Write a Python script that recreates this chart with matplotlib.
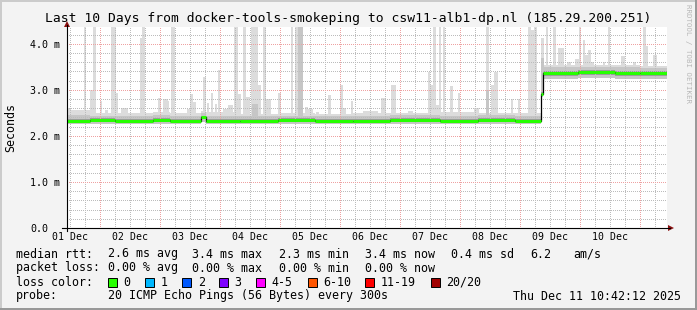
import numpy as np
import matplotlib
matplotlib.use("Agg")
import matplotlib.pyplot as plt
from matplotlib.patches import Rectangle, Polygon
from matplotlib.lines import Line2D

W, H = 697, 310
plt.rcParams['font.family'] = ['DejaVu Sans Mono']

TITLE = "Last 10 Days from docker-tools-smokeping to csw11-alb1-dp.nl (185.29.200.251)"

# Time axis in hours since 01 Dec 00:00
T_START, T_END = 10.7, 250.7
DAY_LABELS = ["01 Dec", "02 Dec", "03 Dec", "04 Dec", "05 Dec",
              "06 Dec", "07 Dec", "08 Dec", "09 Dec", "10 Dec"]
Y_TICKS = [0, 1, 2, 3, 4]
Y_LABELS = ["0.0", "1.0 m", "2.0 m", "3.0 m", "4.0 m"]

# Smoke / median levels per time bin (ms)
EDGES = [10.7, 20, 30, 45, 52, 64.4, 66.4, 80, 95, 110, 125, 140, 160, 175,
         190, 200.4, 201.2, 215, 230, 240, 250.7]
MEDIAN = [2.33, 2.34, 2.32, 2.34, 2.33, 2.40, 2.33, 2.32, 2.34, 2.33, 2.33,
          2.34, 2.33, 2.34, 2.33, 2.92, 3.37, 3.38, 3.37, 3.37]
SMOKE_MIN = [2.26, 2.26, 2.25, 2.26, 2.26, 2.30, 2.25, 2.25, 2.26, 2.26, 2.25,
             2.26, 2.26, 2.26, 2.26, 2.84, 3.24, 3.25, 3.24, 3.24]
DARK_LOW = [2.30, 2.30, 2.29, 2.30, 2.30, 2.36, 2.29, 2.29, 2.30, 2.30, 2.29,
            2.30, 2.30, 2.30, 2.30, 2.88, 3.31, 3.32, 3.31, 3.31]
DARK_HIGH = [2.37, 2.38, 2.36, 2.38, 2.37, 2.44, 2.37, 2.36, 2.38, 2.37, 2.37,
             2.38, 2.37, 2.38, 2.37, 2.96, 3.42, 3.43, 3.42, 3.42]
MID_HIGH = [2.45, 2.44, 2.43, 2.45, 2.44, 2.50, 2.44, 2.43, 2.44, 2.44, 2.43,
            2.45, 2.44, 2.45, 2.44, 3.02, 3.49, 3.50, 3.49, 3.48]
LIGHT_HIGH = [2.56, 2.50, 2.49, 2.52, 2.50, 2.55, 2.52, 2.48, 2.50, 2.48, 2.50,
              2.50, 2.52, 2.50, 2.50, 3.10, 3.53, 3.54, 3.55, 3.52]

# Outlier pings (light smoke), hours and ms
SPIKE_START = [11.2, 12.4, 17.6, 20.0, 21.2, 24.0, 26.0, 28.4, 30.0, 32.4, 40.0, 40.8,
               47.2, 49.2, 50.4, 52.4, 56.4, 58.8, 60.0, 61.2, 65.2, 66.8, 68.4, 70.0,
               71.2, 73.2, 75.2, 77.6, 78.4, 81.2, 82.4, 84.4, 87.2, 89.2, 90.4, 95.2,
               100.4, 102.0, 106.0, 107.2, 110.4, 115.2, 120.0, 121.2, 124.4, 129.2,
               136.4, 140.4, 147.2, 155.2, 156.0, 157.2, 158.4, 159.6, 161.2, 164.0,
               167.2, 173.6, 178.4, 180.4, 181.6, 188.4, 191.2, 195.2, 196.4, 197.6,
               200.4, 202.4, 205.2, 207.2, 210.8, 214.0, 215.6, 217.2, 218.0, 219.2,
               220.4, 225.2, 227.2, 232.4, 237.2, 241.2, 242.4, 245.2]
SPIKE_END = [12.4, 15.2, 18.4, 22.4, 22.4, 24.8, 27.2, 30.4, 31.2, 35.2, 40.8, 42.0,
             48.4, 51.2, 51.6, 54.0, 58.4, 60.4, 61.2, 62.4, 66.4, 67.6, 69.2, 70.8,
             72.0, 75.2, 77.2, 79.2, 80.4, 82.4, 84.0, 87.2, 88.4, 90.4, 92.4, 96.4,
             101.2, 105.2, 107.2, 109.2, 111.6, 116.4, 121.2, 122.4, 125.2, 135.2,
             138.4, 142.4, 149.2, 156.0, 157.2, 158.4, 159.6, 160.4, 162.0, 165.2,
             168.0, 175.6, 179.6, 181.6, 183.2, 189.2, 192.0, 196.4, 197.6, 198.8,
             201.6, 203.2, 206.4, 209.6, 212.4, 215.6, 216.4, 218.0, 219.2, 220.4,
             221.6, 226.0, 228.0, 234.0, 238.4, 242.4, 243.2, 246.8]
SPIKE_TOP = [2.60, 2.55, 4.4, 3.00, 4.4, 2.76, 2.56, 4.4, 2.93, 2.60, 4.12, 4.4,
             2.83, 2.80, 2.76, 4.4, 2.50, 2.58, 2.90, 2.74, 3.28, 2.72, 2.94, 2.70,
             3.44, 2.58, 2.68, 4.4, 2.90, 4.4, 2.84, 4.4, 3.10, 4.4, 2.81, 2.94,
             4.4, 4.4, 2.62, 2.58, 2.52, 2.88, 3.10, 2.60, 2.76, 2.55,
             2.83, 3.10, 2.55, 3.38, 3.10, 4.4, 2.68, 4.4, 4.4, 3.09,
             2.94, 2.60, 4.4, 3.10, 3.38, 2.80, 2.80, 4.4, 4.30, 4.4,
             4.12, 4.4, 4.4, 3.90, 3.60, 3.68, 4.4, 4.08, 3.75, 3.86,
             3.60, 3.60, 4.4, 3.74, 3.60, 4.4, 3.95, 3.75]

# Denser smoke inside some of the outliers
MID_START = [84.8, 103.2, 178.4, 200.4]
MID_END = [87.2, 105.2, 179.6, 201.6]
MID_TOP = [2.70, 4.4, 3.00, 3.70]

MEDIAN_STATS = ["2.6 ms avg", "3.4 ms max", "2.3 ms min", "3.4 ms now", "0.4 ms sd", "6.2", "am/s"]
LOSS_STATS = ["0.00 % avg", "0.00 % max", "0.00 % min", "0.00 % now"]
LOSS_LABELS = ["0", "1", "2", "3", "4-5", "6-10", "11-19", "20/20"]
LOSS_COLORS = ["#26ff00", "#00b8ff", "#0059ff", "#7e00ff", "#ff00ff", "#ff5500", "#ff0000", "#a10000"]
PROBE = "20 ICMP Echo Pings (56 Bytes) every 300s"
STAMP = "Thu Dec 11 10:42:12 2025"

LIGHT, MID, DARK = "#dcdcdc", "#c6c6c6", "#9c9c9c"
GRID, MGRID = "#bcbcbc", "#eea2a2"


def fx(x):
    return x / W


def fy(y):
    return 1 - y / H


fig = plt.figure(figsize=(W / 100, H / 100), dpi=100)
fig.patch.set_facecolor("#f3f3f3")

ax = fig.add_axes([fx(67), fy(228), 600 / W, 201 / H])
ax.set_facecolor("white")
ax.set_xlim(T_START, T_END)
ax.set_ylim(0, 201 / 46.05)
for s in ax.spines.values():
    s.set_visible(False)

# smoke
edges = np.array(EDGES)
ax.stairs(LIGHT_HIGH, edges, baseline=SMOKE_MIN, fill=True, color=LIGHT, zorder=1)
base_idx = np.searchsorted(edges, SPIKE_START, side="right") - 1
base = np.array(MEDIAN)[base_idx]
ax.bar(SPIKE_START, np.array(SPIKE_TOP) - base, bottom=base,
       width=np.array(SPIKE_END) - np.array(SPIKE_START), align="edge",
       color=LIGHT, linewidth=0, zorder=1)
ax.stairs(MID_HIGH, edges, baseline=SMOKE_MIN, fill=True, color=MID, zorder=1.2)
mid_base = np.array(MEDIAN)[np.searchsorted(edges, MID_START, side="right") - 1]
ax.bar(MID_START, np.array(MID_TOP) - mid_base, bottom=mid_base,
       width=np.array(MID_END) - np.array(MID_START), align="edge",
       color=MID, linewidth=0, zorder=1.2)
ax.stairs(DARK_HIGH, edges, baseline=DARK_LOW, fill=True, color=DARK, zorder=1.4)

# grid (on top of the smoke, like rrdtool), 1px dotted
for h in np.arange(12, T_END, 6):
    major = h % 24 == 0
    ax.axvline(h, color=MGRID if major else GRID, lw=0.72, ls=(0, (1, 2)),
               antialiased=False, zorder=2)
for v in np.arange(0.2, 4.37, 0.2):
    major = abs(v - round(v)) < 1e-6
    ax.axhline(v, color=MGRID if major else GRID, lw=0.72, ls=(0, (1, 2)),
               antialiased=False, zorder=2)

# median
ax.stairs(MEDIAN, edges, baseline=None, color="black", lw=0.9, zorder=3)
ax.hlines(MEDIAN, edges[:-1], edges[1:], color=LOSS_COLORS[0], lw=2.2, zorder=4)

# ticks
ax.set_xticks([12 + 24 * i for i in range(len(DAY_LABELS))], DAY_LABELS)
ax.set_yticks(Y_TICKS, Y_LABELS)
ax.tick_params(axis="x", length=0, pad=3.2, labelsize=7.1)
ax.tick_params(axis="y", length=0, pad=37 * 0.72, labelsize=7.2)
for lbl in ax.get_yticklabels():
    lbl.set_horizontalalignment("left")

# axes lines + arrows
fig.add_artist(Line2D([fx(62), fx(670)], [fy(228), fy(228)], color="black", lw=0.8))
fig.add_artist(Line2D([fx(67), fx(67)], [fy(231), fy(25)], color="black", lw=0.8))
fig.add_artist(Polygon([(fx(668), fy(225)), (fx(668), fy(231)), (fx(674), fy(228))],
                       closed=True, color="#8b1010", lw=0))
fig.add_artist(Polygon([(fx(64), fy(27)), (fx(70), fy(27)), (fx(67), fy(21))],
                       closed=True, color="#8b1010", lw=0))

# texts
fig.text(fx(348), fy(18.5), TITLE, ha="center", va="center", fontsize=9.4)
fig.text(fx(10.5), fy(127), "Seconds", rotation=90, ha="center", va="center", fontsize=8.4)
fig.text(fx(688), fy(4), "RRDTOOL / TOBI OETIKER", rotation=-90, ha="center", va="top",
         fontsize=5.3, color="#b8b8b8")

fs = 8.4
fig.text(fx(16), fy(254), "median rtt:", va="center", fontsize=fs)
for x, s in zip([107.6, 192.4, 279, 365, 451, 530, 573], MEDIAN_STATS):
    fig.text(fx(x), fy(254), s, va="center", fontsize=fs)
fig.text(fx(16), fy(268), "packet loss:", va="center", fontsize=fs)
for x, s in zip([107.6, 192.4, 279, 365], LOSS_STATS):
    fig.text(fx(x), fy(268), s, va="center", fontsize=fs)
fig.text(fx(16), fy(282), "loss color:", va="center", fontsize=fs)
for x, lab, c in zip([107.6, 145.3, 182.3, 219.1, 256.4, 307.6, 365.3, 431.1],
                     LOSS_LABELS, LOSS_COLORS):
    fig.add_artist(Rectangle((fx(x), fy(286.5)), 9 / W, 9 / H, facecolor=c,
                             edgecolor="black", lw=0.7))
    fig.text(fx(x + 15.5), fy(282), lab, va="center", fontsize=fs)
fig.text(fx(16), fy(296), "probe:", va="center", fontsize=fs)
fig.text(fx(107.6), fy(296), PROBE, va="center", fontsize=fs)
fig.text(fx(681), fy(296), STAMP, ha="right", va="center", fontsize=fs)

# 3d frame
fig.add_artist(Line2D([0, 1], [fy(1), fy(1)], color="#cbcbcb", lw=1.44))
fig.add_artist(Line2D([fx(1), fx(1)], [0, 1], color="#cbcbcb", lw=1.44))
fig.add_artist(Line2D([0, 1], [fy(309), fy(309)], color="#999999", lw=1.44))
fig.add_artist(Line2D([fx(696), fx(696)], [0, 1], color="#999999", lw=1.44))

fig.savefig("out.png", dpi=100, facecolor=fig.get_facecolor())
